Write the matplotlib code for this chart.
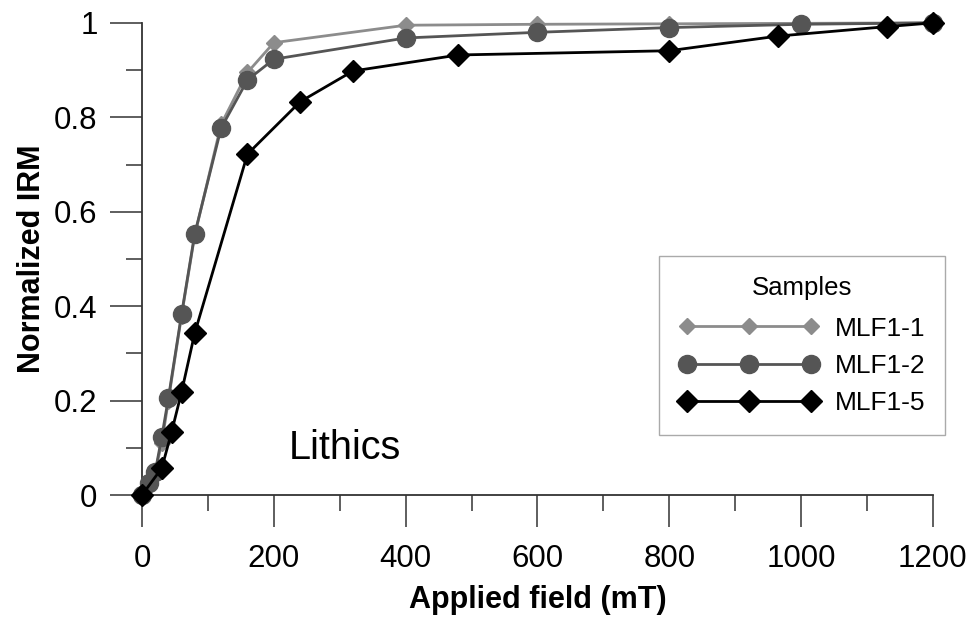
import matplotlib.pyplot as plt
from matplotlib.ticker import MultipleLocator

plt.rcParams['font.family'] = ['Liberation Sans', 'DejaVu Sans']

# values
field_1 = [0, 10, 20, 30, 40, 60, 80, 120, 160, 200, 400, 600, 800, 1000, 1200]
irm_1 = [0, 0.02, 0.05, 0.11, 0.20, 0.38, 0.55, 0.785, 0.895, 0.958, 0.995, 0.997, 0.998, 0.999, 1.0]

field_2 = [0, 10, 20, 30, 40, 60, 80, 120, 160, 200, 400, 600, 800, 1000, 1200]
irm_2 = [0, 0.025, 0.049, 0.123, 0.205, 0.383, 0.553, 0.777, 0.879, 0.923, 0.968, 0.98, 0.99, 0.997, 1.0]

field_5 = [0, 30, 45, 60, 80, 160, 240, 320, 480, 800, 965, 1130, 1200]
irm_5 = [0, 0.057, 0.134, 0.218, 0.343, 0.722, 0.833, 0.898, 0.932, 0.941, 0.972, 0.992, 1.0]

fig = plt.figure(figsize=(9.74, 6.18), dpi=100)
ax = fig.add_axes([0.1458, 0.199, 0.812, 0.764])

ax.plot(field_1, irm_1, color="#8c8c8c", lw=2, marker="D", ms=8, label="MLF1-1", clip_on=False, zorder=3)
ax.plot(field_2, irm_2, color="#555555", lw=2, marker="o", ms=13, label="MLF1-2", clip_on=False, zorder=4)
ax.plot(field_5, irm_5, color="black", lw=2, marker="D", ms=11, label="MLF1-5", clip_on=False, zorder=5)

ax.set_xlim(0, 1200)
ax.set_ylim(0, 1)
ax.xaxis.set_major_locator(MultipleLocator(200))
ax.xaxis.set_minor_locator(MultipleLocator(100))
ax.yaxis.set_major_locator(MultipleLocator(0.2))
ax.yaxis.set_minor_locator(MultipleLocator(0.1))
ax.yaxis.set_major_formatter(plt.FuncFormatter(lambda v, p: "%g" % round(v, 1)))

for s in ["top", "right"]:
    ax.spines[s].set_visible(False)
for s in ["left", "bottom"]:
    ax.spines[s].set_color("#333333")
    ax.spines[s].set_linewidth(1.3)

ax.tick_params(which="major", direction="out", length=23, width=1.1, color="#333333", labelsize=22.5)
ax.tick_params(axis="x", which="major", pad=12)
ax.tick_params(axis="y", which="major", pad=9)
ax.tick_params(which="minor", direction="out", length=11.5, width=1.1, color="#333333")

ax.set_xlabel("Applied field (mT)", fontsize=22, fontweight="bold", labelpad=8)
ax.set_ylabel("Normalized IRM", fontsize=22, fontweight="bold", labelpad=5)

ax.text(0.185, 0.1, "Lithics", transform=ax.transAxes, fontsize=28.5, ha="left", va="center")

leg = ax.legend(title="Samples", loc="upper left", bbox_to_anchor=(0.654, 0.506),
                numpoints=3, handlelength=5.3, fontsize=19, title_fontsize=18.5,
                fancybox=False, framealpha=1, edgecolor="#aaaaaa",
                borderpad=0.75, labelspacing=0.5, handletextpad=0.6, borderaxespad=0)
leg.get_frame().set_linewidth(1)
leg._legend_box.sep = 12

fig.savefig("out.png", dpi=100)
